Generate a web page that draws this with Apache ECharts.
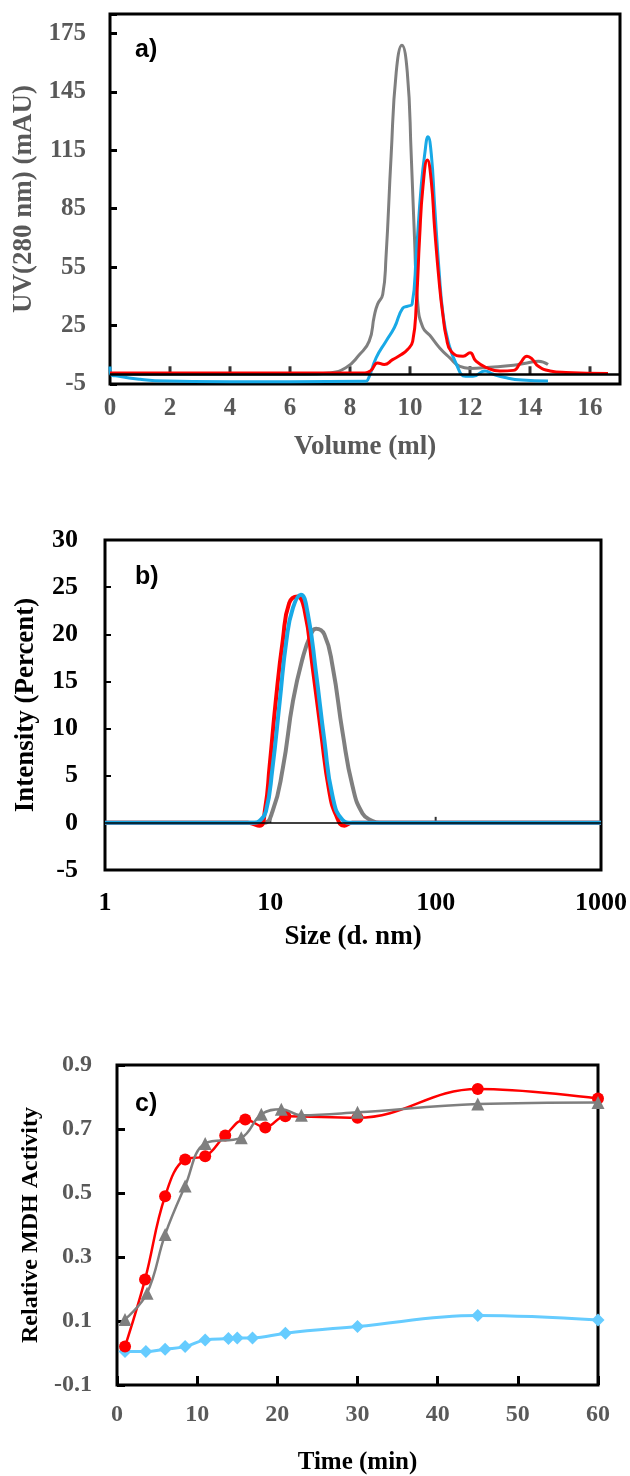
<!DOCTYPE html>
<html><head><meta charset="utf-8">
<script src="https://cdn.jsdelivr.net/npm/echarts@6/dist/echarts.min.js"></script>
<style>html,body{margin:0;padding:0;background:#fff}#c{width:630px;height:1476px}</style>
</head><body><div id="c"></div>
<script>
// ---------- Panel a: SEC chromatograms, [volume ml, UV mAU] ----------
const secGray = [[0,0],[6.5,0],[7.3,0.7],[7.86,3.3],[8.31,10],[8.64,17],[8.81,30],[8.92,36],[9.09,41],[9.2,60],[9.37,112],[9.54,155],[9.73,169],[9.91,155],[10.04,113],[10.15,70],[10.26,36],[10.43,24],[10.66,20],[10.99,13.5],[11.33,8.4],[11.66,4],[12.0,3],[12.67,3.6],[13.45,4.6],[13.9,5.8],[14.28,6.7],[14.6,5]];
const secBlue = [[0,4],[0.03,0],[0.3,-1],[1,-2.6],[1.5,-3.3],[4,-3.8],[6,-3.8],[8.5,-3.6],[8.59,-3],[8.87,8.4],[9.2,17],[9.48,24],[9.76,34],[9.93,35],[10.07,36],[10.21,62],[10.37,96],[10.49,113],[10.6,122],[10.71,113],[10.82,87],[10.97,53],[11.1,31],[11.27,17],[11.55,5],[11.85,-1],[12.1,-1],[12.5,1.7],[12.78,0],[13.17,-1.7],[13.73,-3],[14.6,-3.5]];
const secRed = [[0,0.6],[8.5,0.6],[8.7,2],[8.92,5.8],[9.14,5],[9.42,7.5],[9.7,10],[9.92,12.7],[10.09,17],[10.21,36],[10.32,70],[10.43,96],[10.58,110],[10.71,99],[10.82,75],[10.99,44.5],[11.1,30],[11.21,19],[11.38,11.5],[11.77,9.3],[12.0,11],[12.2,6.7],[12.55,3.4],[13.0,1.7],[13.45,2],[13.68,5.8],[13.9,9.3],[14.05,8.2],[14.28,4.1],[14.67,1.7],[15.2,0.9],[16.6,0.4]];

// ---------- Panel b: DLS size distributions, [size d.nm, intensity %] ----------
const dlsGray = [[1,0],[9,0],[10.3,1.2],[11.9,5.8],[13.7,12.9],[15.7,17.5],[17.6,20],[18.9,20.6],[21.2,20],[23.8,16.6],[27.4,9.5],[31.4,3.9],[36.1,1.0],[41.5,0.2],[46,0],[1000,0]];
const dlsRed = [[1,0],[7.3,0],[8.6,-0.3],[9.3,1.5],[9.9,6],[10.8,13],[11.9,19.4],[13,23.3],[14.6,24],[16.1,22.6],[18,16.6],[20.3,9.5],[22.7,3.4],[25,0.8],[28,-0.3],[31.3,0],[1000,0]];
const dlsBlue = [[1,0],[8,0],[8.6,0.2],[9.4,1.2],[10.3,5.8],[11.4,12.9],[12.5,19.3],[13.7,22.8],[15.3,24.2],[16.8,22.3],[18.9,15.9],[21.2,8.8],[23.8,2.8],[27.4,0.3],[31.3,0],[1000,0]];

// ---------- Panel c: relative MDH activity, [time min, activity] ----------
const mdhRed = [[1,0.02],[3.5,0.23],[6,0.49],[8.5,0.605],[11,0.615],[13.5,0.68],[16,0.73],[18.5,0.705],[21,0.74],[30,0.735],[45,0.825],[60,0.795]];
const mdhGray = [[1,0.105],[3.75,0.187],[6,0.37],[8.5,0.522],[11,0.655],[15.5,0.673],[18,0.746],[20.5,0.762],[23,0.743],[30,0.752],[45,0.778],[60,0.783]];
const mdhCyan = [[1,0.005],[3.6,0.005],[6,0.012],[8.5,0.02],[11,0.041],[13.9,0.045],[15,0.047],[16.9,0.047],[21,0.062],[30,0.083],[45,0.117],[60,0.103]];

// ---------- Axis ticks ----------
const secVolTicks = {min:0, max:17, interval:2, last:16};
const secUVTicks = {min:-5, max:185, interval:30, last:175};
const secZeroLineTicks = [2,4,6,8,10,12,14,16];
const dlsSizeRange = {min:1, max:1000};
const dlsIntTicks = {min:-5, max:30, interval:5};
const dlsZeroLineTicks = [10,100];
const mdhTimeTicks = {min:0, max:60, interval:10};
const mdhActTicks = {min:-0.1, max:0.9, interval:0.2};

const SERIF = '"Liberation Serif","Times New Roman",serif';
const GRAY_TXT = '#595959';
const chart = echarts.init(document.getElementById('c'), null, {renderer:'canvas'});

function lbl(color, size, margin, extra){
  return Object.assign({color:color, fontFamily:SERIF, fontWeight:'bold', fontSize:size, margin:margin}, extra||{});
}
function nameStyle(color, size){ return {color:color, fontFamily:SERIF, fontWeight:'bold', fontSize:size}; }
const frame = {show:true, borderColor:'#000', borderWidth:3, backgroundColor:'transparent'};

// zero line with upward tick marks, drawn through the panel's own axes
function zeroLineSeries(xi, yi, ticks, lineW, tickW, tickLen){
  return {type:'scatter', xAxisIndex:xi, yAxisIndex:yi, silent:true, z:1,
    data:ticks.map(v => [v, 0]), symbol:'rect', symbolSize:[tickW, tickLen], symbolOffset:[0, -tickLen/2],
    itemStyle:{color:'#000'},
    markLine:{silent:true, symbol:'none', label:{show:false}, animation:false,
      lineStyle:{color:'#000', width:lineW, type:'solid'}, data:[{yAxis:0}]}};
}

const option = {
  animation:false,
  backgroundColor:'#fff',
  grid:[
    Object.assign({left:110, top:14, width:510, height:370}, frame),
    Object.assign({left:105, top:540, width:497, height:330}, frame),
    Object.assign({left:117, top:1065, width:481, height:320}, frame)
  ],
  xAxis:[
    {gridIndex:0, type:'value', position:'bottom', min:secVolTicks.min, max:secVolTicks.max, interval:secVolTicks.interval,
     axisLine:{show:false, onZero:false}, axisTick:{show:false}, splitLine:{show:false},
     axisLabel:lbl(GRAY_TXT, 25, 12, {formatter:v => v > secVolTicks.last ? '' : String(v)}),
     name:'Volume (ml)', nameLocation:'middle', nameGap:50, nameTextStyle:nameStyle(GRAY_TXT, 27)},
    {gridIndex:1, type:'log', logBase:10, position:'bottom', min:dlsSizeRange.min, max:dlsSizeRange.max,
     axisLine:{show:false, onZero:false}, axisTick:{show:false}, splitLine:{show:false}, minorTick:{show:false},
     axisLabel:lbl('#000', 26, 20, {formatter:v => String(Math.round(v))}),
     name:'Size (d. nm)', nameLocation:'middle', nameGap:54, nameTextStyle:nameStyle('#000', 27)},
    {gridIndex:2, type:'value', position:'bottom', min:mdhTimeTicks.min, max:mdhTimeTicks.max, interval:mdhTimeTicks.interval,
     axisLine:{show:false, onZero:false},
     axisTick:{show:true, inside:true, length:9, lineStyle:{color:'#000', width:3}}, splitLine:{show:false},
     axisLabel:lbl(GRAY_TXT, 24, 18),
     name:'Time (min)', nameLocation:'middle', nameGap:65, nameTextStyle:nameStyle('#000', 25)}
  ],
  yAxis:[
    {gridIndex:0, type:'value', min:secUVTicks.min, max:secUVTicks.max, interval:secUVTicks.interval,
     axisLine:{show:false, onZero:false},
     axisTick:{show:true, inside:true, length:7, lineStyle:{color:'#000', width:3}}, splitLine:{show:false},
     axisLabel:lbl(GRAY_TXT, 25, 24, {formatter:v => v > secUVTicks.last ? '' : String(v)}),
     name:'UV(280 nm) (mAU)', nameLocation:'middle', nameGap:72, nameTextStyle:nameStyle(GRAY_TXT, 27)},
    {gridIndex:1, type:'value', min:dlsIntTicks.min, max:dlsIntTicks.max, interval:dlsIntTicks.interval,
     axisLine:{show:false, onZero:false},
     axisTick:{show:true, inside:true, length:6, lineStyle:{color:'#000', width:2}}, splitLine:{show:false},
     axisLabel:lbl('#000', 26, 27),
     name:'Intensity (Percent)', nameLocation:'middle', nameGap:65, nameTextStyle:nameStyle('#000', 27)},
    {gridIndex:2, type:'value', min:mdhActTicks.min, max:mdhActTicks.max, interval:mdhActTicks.interval,
     axisLine:{show:false, onZero:false},
     axisTick:{show:true, inside:true, length:8, lineStyle:{color:'#000', width:3}}, splitLine:{show:false},
     axisLabel:lbl(GRAY_TXT, 24, 25, {formatter:v => (Math.round(v*10)/10).toFixed(1)}),
     name:'Relative MDH Activity', nameLocation:'middle', nameGap:67, nameTextStyle:nameStyle('#000', 24)}
  ],
  graphic:[
    {type:'text', left:135, top:38, style:{text:'a)', font:'bold 25px "Liberation Sans", Arial, sans-serif', fill:'#000'}},
    {type:'text', left:135, top:565, style:{text:'b)', font:'bold 25px "Liberation Sans", Arial, sans-serif', fill:'#000'}},
    {type:'text', left:135, top:1092, style:{text:'c)', font:'bold 25px "Liberation Sans", Arial, sans-serif', fill:'#000'}}
  ],
  series:[
    zeroLineSeries(0, 0, secZeroLineTicks, 2.5, 3, 8),
    {type:'line', xAxisIndex:0, yAxisIndex:0, data:secGray, showSymbol:false, smooth:0.5, lineStyle:{color:'#7F7F7F', width:3}, z:2},
    {type:'line', xAxisIndex:0, yAxisIndex:0, data:secBlue, showSymbol:false, smooth:0.5, lineStyle:{color:'#18A9E6', width:3}, z:3},
    {type:'line', xAxisIndex:0, yAxisIndex:0, data:secRed, showSymbol:false, smooth:0.5, lineStyle:{color:'#FF0000', width:3}, z:4},

    zeroLineSeries(1, 1, dlsZeroLineTicks, 1.5, 2, 6),
    {type:'line', xAxisIndex:1, yAxisIndex:1, data:dlsGray, showSymbol:false, smooth:0.5, lineStyle:{color:'#7F7F7F', width:4}, z:2},
    {type:'line', xAxisIndex:1, yAxisIndex:1, data:dlsRed, showSymbol:false, smooth:0.5, lineStyle:{color:'#FF0000', width:4}, z:3},
    {type:'line', xAxisIndex:1, yAxisIndex:1, data:dlsBlue, showSymbol:false, smooth:0.5, lineStyle:{color:'#18A9E6', width:4}, z:4},

    {type:'line', xAxisIndex:2, yAxisIndex:2, data:mdhCyan, symbol:'diamond', symbolSize:13, smooth:0.4,
     itemStyle:{color:'#66CCFF'}, lineStyle:{color:'#66CCFF', width:3}, z:2},
    {type:'line', xAxisIndex:2, yAxisIndex:2, data:mdhRed, symbol:'circle', symbolSize:12, smooth:0.4,
     itemStyle:{color:'#FF0000'}, lineStyle:{color:'#FF0000', width:2.5}, z:3},
    {type:'line', xAxisIndex:2, yAxisIndex:2, data:mdhGray, symbol:'triangle', symbolSize:13, smooth:0.4,
     itemStyle:{color:'#7F7F7F'}, lineStyle:{color:'#7F7F7F', width:2.5}, z:4}
  ]
};
chart.setOption(option);
</script>
</body></html>
